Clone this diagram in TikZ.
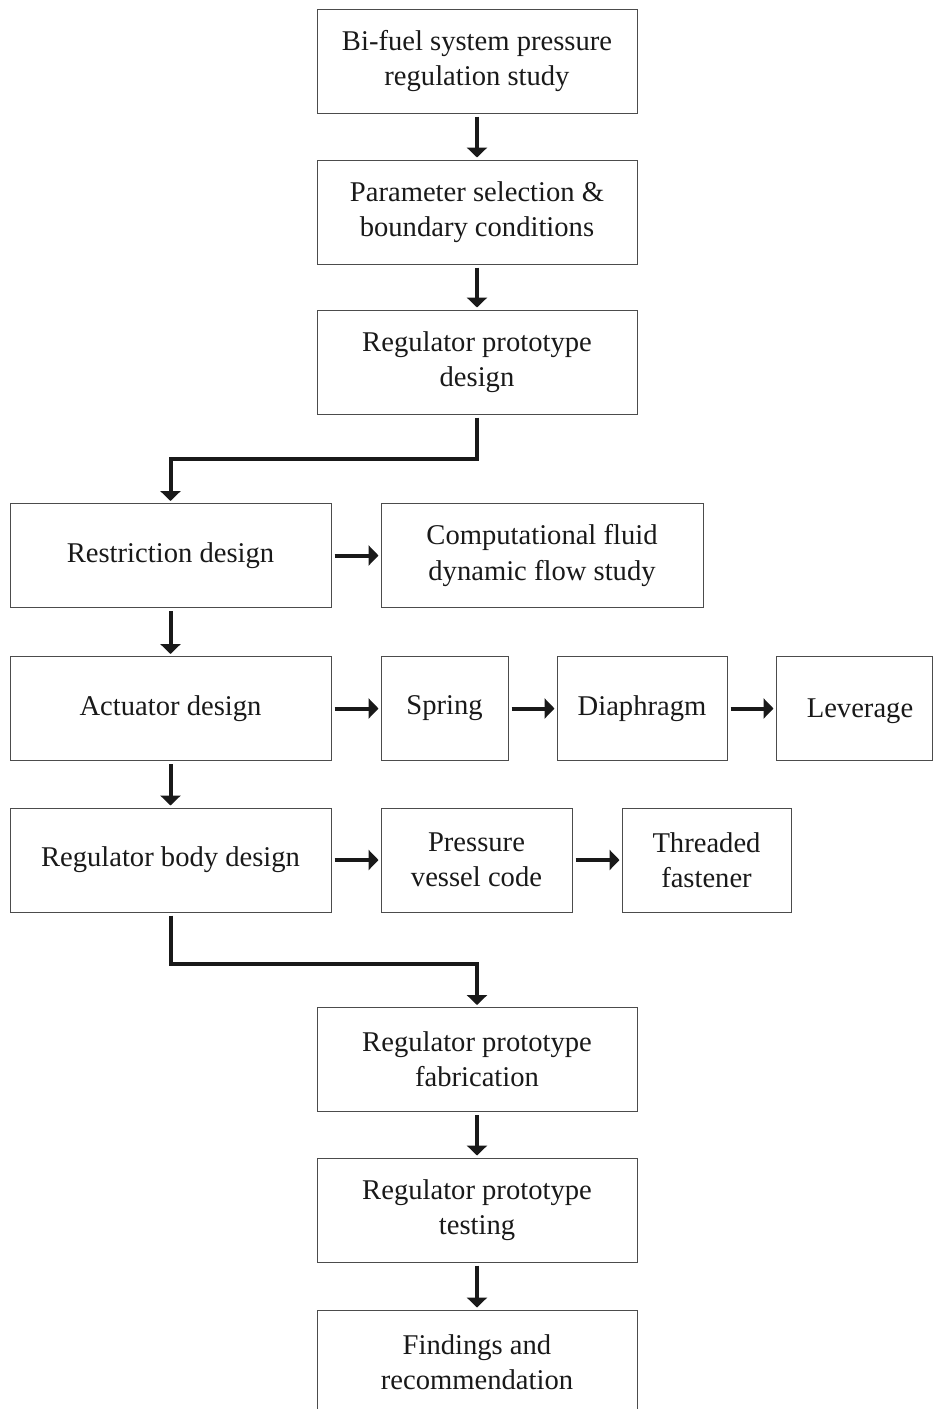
\documentclass[tikz,border=0pt]{standalone}
\usepackage{fontspec}
\setmainfont{Liberation Serif}
\usetikzlibrary{arrows.meta}

\begin{document}
\begin{tikzpicture}[x=0.5pt, y=-0.5pt]
        \tikzstyle{every node} = [font=\fontsize{14.3}{17.6}\selectfont, text=black!90]
        \tikzstyle{blok}  = [draw=black!70, line width=0.5pt, inner sep=0pt, minimum height=52pt, align=center]
        \tikzstyle{sag}   = [line width=2pt, draw=black!90, -{Triangle[length=5pt, width=10pt]}, shorten <=1.5pt, shorten >=1pt]

        \def\cola{477}
        \def\colb{170.5}
        \def\niva{61}
        \def\nivb{212}
        \def\nivc{362}
        \def\nivd{555.5}
        \def\nive{708.5}
        \def\nivf{860}
        \def\nivg{1059.5}
        \def\nivh{1210}
        \def\nivi{1362}

        \useasboundingbox (0,0) rectangle (934,1409);

        % main column
        \node[blok, minimum width=160pt] (studiu) at (\cola,\niva) {Bi-fuel system pressure\\regulation study};
        \node[blok, minimum width=160pt] (param)  at (\cola,\nivb) {Parameter selection \&\\boundary conditions};
        \node[blok, minimum width=160pt] (proto)  at (\cola,\nivc) {Regulator prototype\\design};

        % left column
        \node[blok, minimum width=160.5pt] (restr) at (\colb,\nivd) {Restriction design};
        \node[blok, minimum width=160.5pt] (actua) at (\colb,\nive) {Actuator design};
        \node[blok, minimum width=160.5pt] (corp)  at (\colb,\nivf) {Regulator body design};

        % side branches
        \node[blok, minimum width=161pt]  (cfd)     at (542,\nivd) {Computational fluid\\dynamic flow study};
        \node[blok, minimum width=63.5pt] (arc)     at (444.5,\nive) {Spring};
        \node[blok, minimum width=85pt]   (diafr)   at (642,\nive) {Diaphragm};
        \node[blok, minimum width=78pt, text depth=0pt, inner xsep=0pt] (parghie) at (854,\nive) {\hspace*{6pt}Leverage};
        \node[blok, minimum width=95.5pt] (vas)     at (476.5,\nivf) {Pressure\\vessel code};
        \node[blok, minimum width=84.5pt] (filet)   at (706.5,\nivf) {Threaded\\fastener};

        % end of chain
        \node[blok, minimum width=160pt] (fabr)  at (\cola,\nivg) {Regulator prototype\\fabrication};
        \node[blok, minimum width=160pt] (test)  at (\cola,\nivh) {Regulator prototype\\testing};
        \node[blok, minimum width=160pt] (concl) at (\cola,\nivi) {Findings and\\recommendation};

        \draw[sag] (studiu.south) -- (param.north);
        \draw[sag] (param.south) -- (proto.north);
        \draw[sag] (proto.south) -- ++(0,44) -| (restr.north);
        \draw[sag] (restr.south) -- (actua.north);
        \draw[sag] (actua.south) -- (corp.north);
        \draw[sag] (corp.south) -- ++(0,51) -| (fabr.north);
        \draw[sag] (fabr.south) -- (test.north);
        \draw[sag] (test.south) -- (concl.north);

        \draw[sag] (restr.east) -- (cfd.west);
        \draw[sag] (actua.east) -- (arc.west);
        \draw[sag] (arc.east) -- (diafr.west);
        \draw[sag] (diafr.east) -- (parghie.west);
        \draw[sag] (corp.east) -- (vas.west);
        \draw[sag] (vas.east) -- (filet.west);
\end{tikzpicture}
\end{document}
